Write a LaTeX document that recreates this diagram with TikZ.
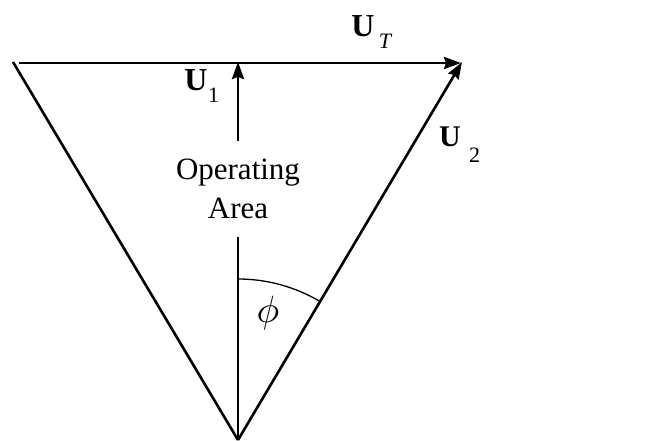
\documentclass[tikz,border=0pt]{standalone}
\usepackage{fontspec}
\setmainfont{Liberation Serif}
\usetikzlibrary{arrows.meta}
\begin{document}
\begin{tikzpicture}[x=1pt,y=-1pt,
  vec/.style={line width=2.6pt,-{Stealth[length=17pt,width=12pt,inset=2pt]}},
  edge/.style={line width=2.6pt},
  lbl/.style={inner sep=0pt,font=\fontsize{32}{32}\selectfont\bfseries},
  sub/.style={inner sep=0pt,font=\fontsize{22}{22}\selectfont}]
\useasboundingbox (0,0) rectangle (661,441);
\coordinate (L) at (13,62);
\coordinate (B) at (238,440);
\coordinate (T) at (462,62);
\coordinate (M) at (238,62);
\coordinate (S) at (19,63);
\draw[edge] (L) -- (B);
\draw[vec] (S) -- (461,63);
\draw[vec] (B) -- (M);
\draw[vec] (B) -- (T);
\draw[line width=1.3pt] (238,279) arc[start angle=-90,end angle=-59.35,radius=161];
\node[lbl] (ut) at (363,26) {U};
\node[sub] (utsub) at (385,41) {\itshape T};
\node[lbl] (u1) at (196,80) {U};
\node[sub] (u1sub) at (213.5,95) {1};
\node[lbl,font=\fontsize{30}{30}\selectfont\bfseries] (u2) at (450,137) {U};
\node[sub] (u2sub) at (474.5,155) {2};
\node[inner sep=0pt,fill=white,minimum height=96pt,minimum width=20pt,align=center,
  font=\fontsize{31}{39}\selectfont] (op) at (238,189) {Operating\\Area};
\node[inner sep=0pt] (phi) at (268,313) {\scalebox{3.8}{$\phi$}};
\end{tikzpicture}
\end{document}
